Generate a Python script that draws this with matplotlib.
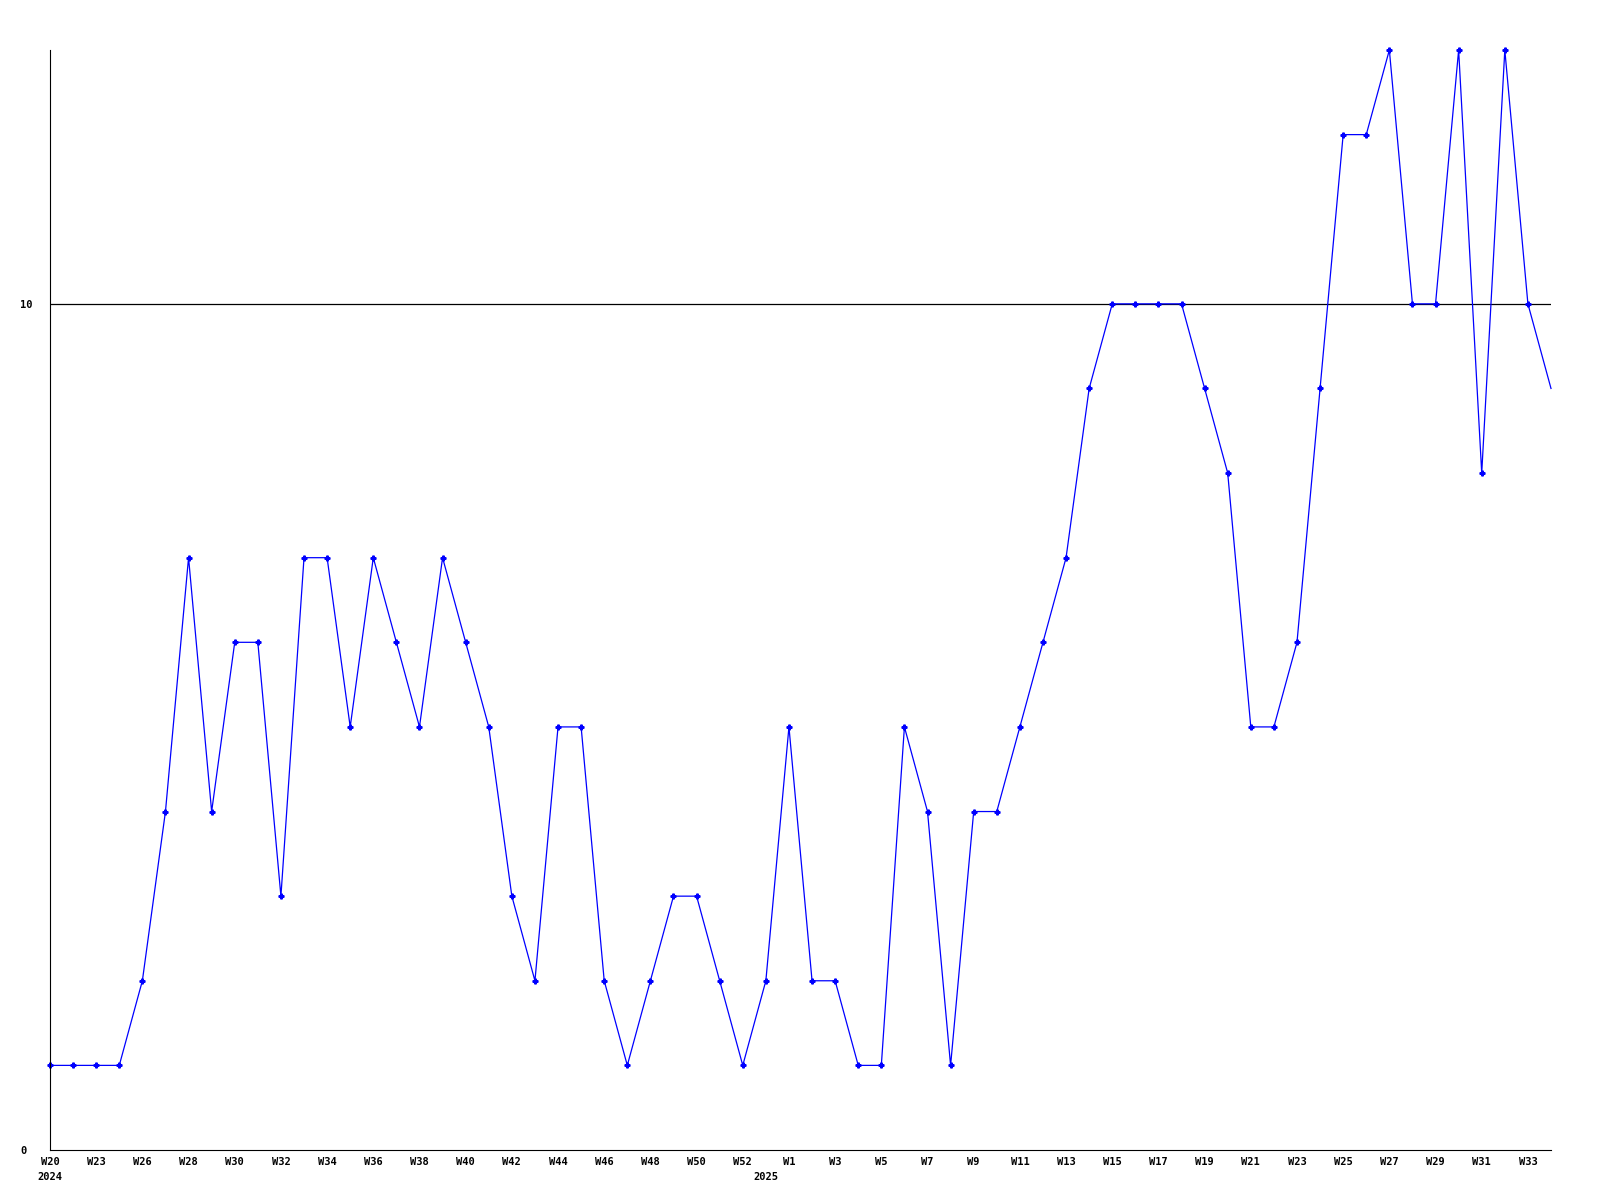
import matplotlib
matplotlib.use('Agg')
import matplotlib.pyplot as plt

# weekly values, one point per week
values = [1, 1, 1, 1, 2, 4, 7, 4, 6, 6,
          3, 7, 7, 5, 7, 6, 5, 7, 6, 5,
          3, 2, 5, 5, 2, 1, 2, 3, 3, 2,
          1, 2, 5, 2, 2, 1, 1, 5, 4, 1,
          4, 4, 5, 6, 7, 9, 10, 10, 10, 10,
          9, 8, 5, 5, 6, 9, 12, 12, 13, 10,
          10, 13, 8, 13, 10, 9]

week_labels = ['W20', 'W23', 'W26', 'W28', 'W30', 'W32', 'W34', 'W36', 'W38', 'W40',
               'W42', 'W44', 'W46', 'W48', 'W50', 'W52', 'W1', 'W3', 'W5', 'W7',
               'W9', 'W11', 'W13', 'W15', 'W17', 'W19', 'W21', 'W23', 'W25', 'W27',
               'W29', 'W31', 'W33']
year_labels = ['2024', '2025']
year_pos = [0, 31]

y_ticks = [0, 10]
y_max = 13

x = list(range(len(values)))
label_pos = list(range(0, 2 * len(week_labels), 2))

fig = plt.figure(figsize=(16, 12), dpi=100)
ax = fig.add_axes([50/1600, 50/1200, 1501/1600, 1100/1200])

ax.plot(x, values, color='#0000ff', linewidth=0.9, marker='P', markersize=3.5,
        markevery=list(range(len(values) - 1)), clip_on=False)
ax.axhline(10, color='black', linewidth=0.9, zorder=1)

ax.set_xlim(0, len(values) - 1)
ax.set_ylim(0, y_max)

for s in ['top', 'right']:
    ax.spines[s].set_visible(False)

font = dict(family='DejaVu Sans Mono', fontweight='bold', fontsize=7.5)
ax.set_yticks(y_ticks)
ax.set_yticklabels([str(v) for v in y_ticks], ha='left', **font)
ax.tick_params(axis='y', length=0, pad=21.5)
ax.set_xticks([])

for pos, lab in zip(label_pos, week_labels):
    ax.annotate(lab, xy=(pos, 0), xycoords=('data', 'axes fraction'), xytext=(0, -12),
                textcoords='offset pixels', ha='center', va='center', **font)
for pos, lab in zip(year_pos, year_labels):
    ax.annotate(lab, xy=(pos, 0), xycoords=('data', 'axes fraction'), xytext=(0, -27),
                textcoords='offset pixels', ha='center', va='center', **font)

fig.savefig('out.png', dpi=100)
